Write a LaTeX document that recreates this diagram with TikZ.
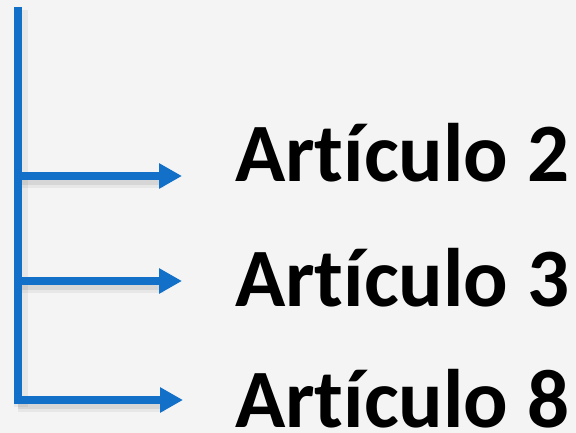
\documentclass[tikz,border=0pt]{standalone}
\usepackage{fontspec}
\setmainfont{Carlito}[Ligatures=NoCommon]
\usetikzlibrary{arrows.meta}
\definecolor{lineblue}{HTML}{1270C8}
\definecolor{bggray}{HTML}{F4F4F4}
\tikzset{
  trunk/.style={draw=lineblue, line width=8pt},
  branch/.style={draw=lineblue, line width=8pt, -{Triangle[length=23pt,width=24pt]}},
  shadowa/.style={draw=black, opacity=0.05, line width=14pt},
  shadowb/.style={draw=black, opacity=0.07, line width=8pt},
  label/.style={anchor=base west, inner sep=0pt, font=\bfseries\fontsize{83}{90}\selectfont, text=black}
}
\begin{document}
\begin{tikzpicture}[x=1pt,y=-1pt]
\useasboundingbox (0,0) rectangle (576,433);
\fill[bggray] (0,0) rectangle (576,433);
% coordinates
\coordinate (top) at (17.5,7);
\coordinate (bot) at (17.5,404);
\coordinate (b1) at (14,176);
\coordinate (b2) at (14,281);
\coordinate (b3) at (14,400);
\coordinate (e1) at (182,176);
\coordinate (e2) at (182,281);
\coordinate (e3) at (183,400);
% soft shadows
\foreach \s/\e in {b1/e1,b2/e2,b3/e3}{
  \draw[shadowa] ([xshift=4pt,yshift=-5pt]\s) -- ([xshift=-18pt,yshift=-5pt]\e);
  \draw[shadowb] ([xshift=4pt,yshift=-5pt]\s) -- ([xshift=-20pt,yshift=-5pt]\e);
}
\draw[shadowa] ([xshift=3pt,yshift=-3pt]top) -- ([xshift=3pt,yshift=-3pt]bot);
% lines
\draw[trunk] (top) -- (bot);
\draw[branch] (b1) -- (e1);
\draw[branch] (b2) -- (e2);
\draw[branch] (b3) -- (e3);
% labels
\node[label] (t1) at (235,182) {Artículo 2};
\node[label] (t2) at (235,306) {Artículo 3};
\node[label] (t3) at (235,427) {Artículo 8};
\end{tikzpicture}
\end{document}
